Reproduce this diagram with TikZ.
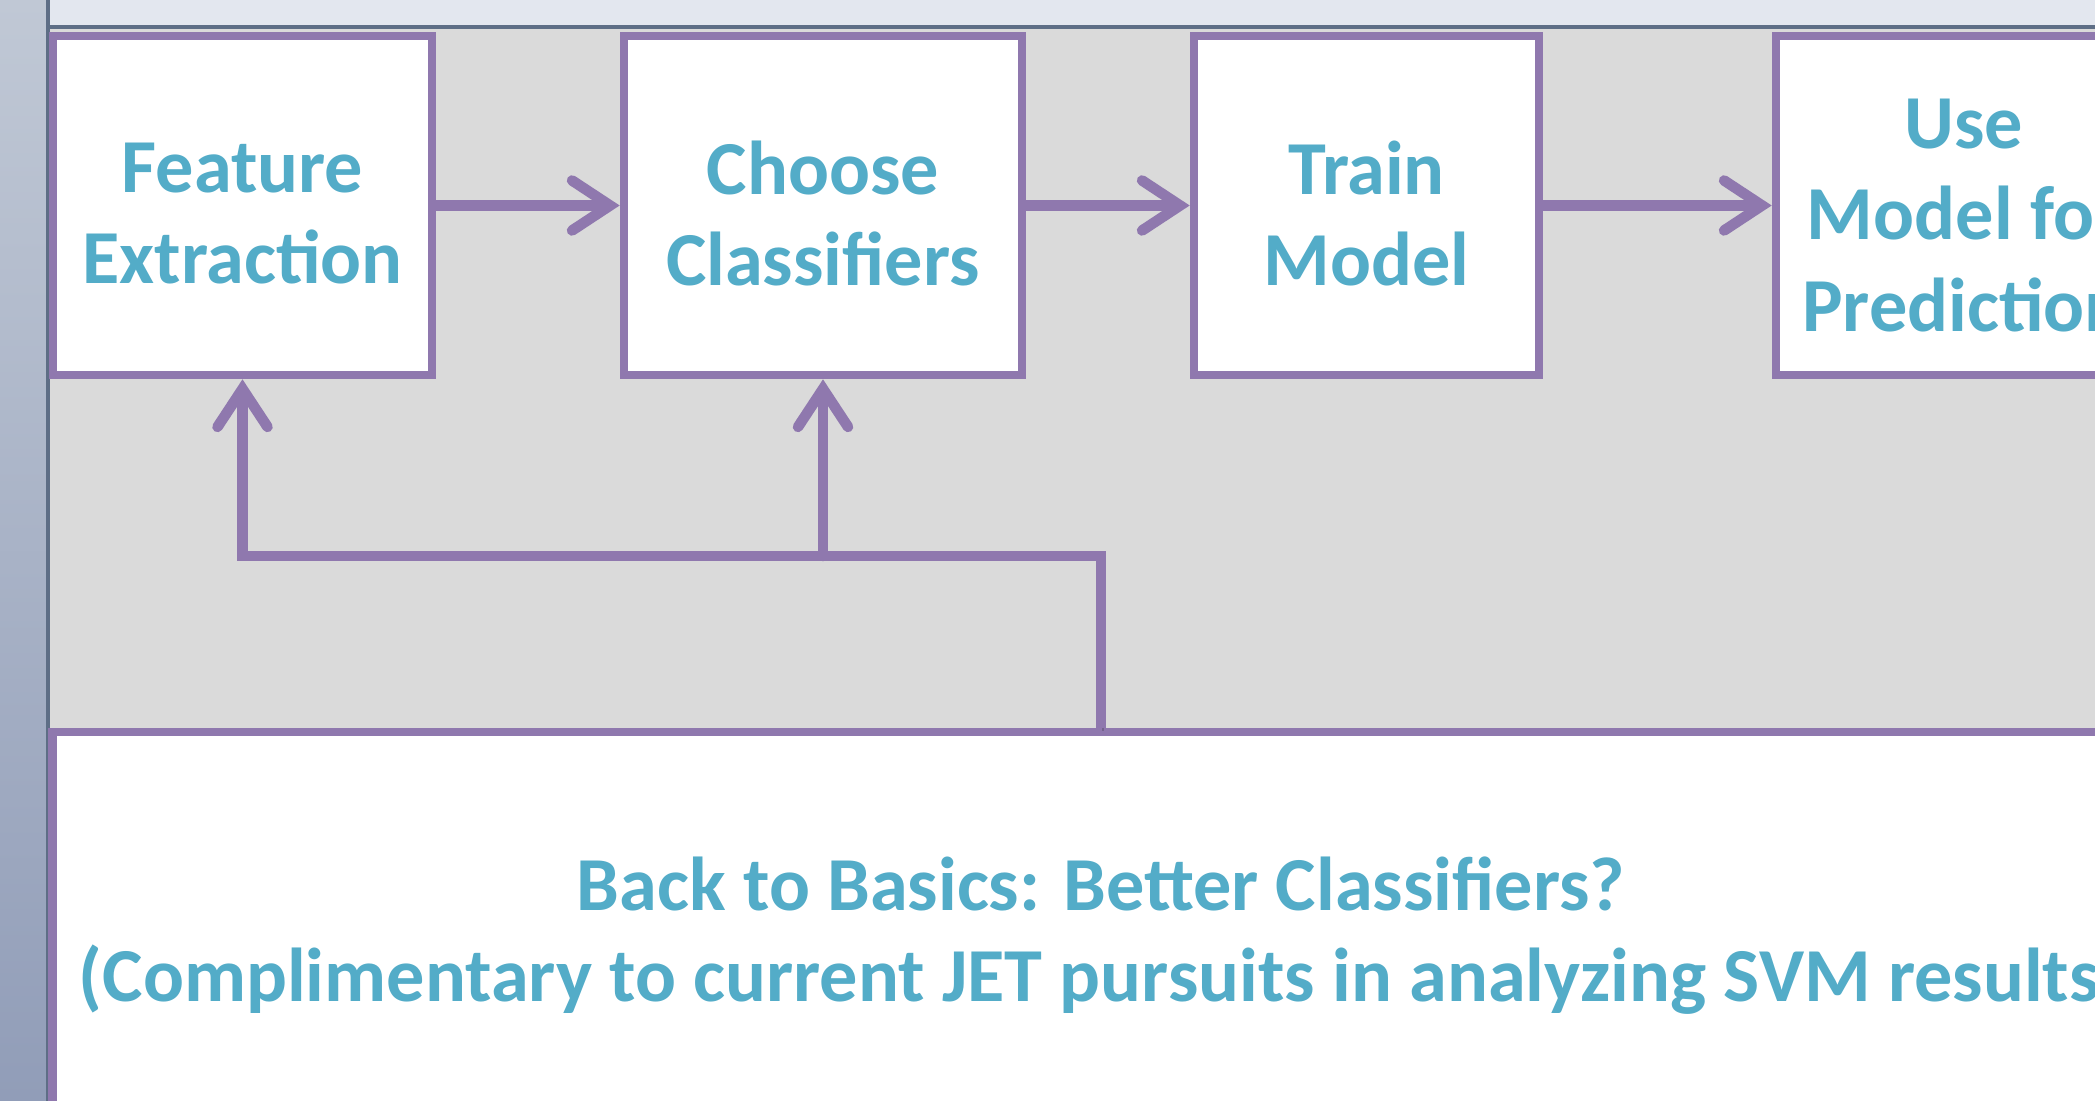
\documentclass[tikz,border=0pt]{standalone}
\usepackage{fontspec}
\setmainfont{Carlito}
\usetikzlibrary{arrows.meta}
\definecolor{boxline}{HTML}{8F78AE}
\definecolor{txt}{HTML}{53ACC8}
\definecolor{bggray}{HTML}{DADADA}
\definecolor{topstrip}{HTML}{E3E7EF}
\definecolor{sidetop}{HTML}{C0C8D5}
\definecolor{sidebot}{HTML}{919DB8}
\definecolor{edge}{HTML}{5E6E86}
\begin{document}
\begin{tikzpicture}[x=0.01cm,y=-0.01cm,
  stage/.style={draw=boxline, line width=2.4pt, fill=white, inner sep=0pt,
    minimum height=3.39cm},
  lbl/.style={align=center, text=txt, inner sep=0pt,
    font=\bfseries\fontsize{21.7}{25.9}\selectfont},
  flow/.style={draw=boxline, line width=3pt, line cap=round,
    -{Straight Barb[length=0.38cm,width=0.50cm,line cap=round]},
    preaction={draw=black, draw opacity=0.18, transform canvas={xshift=0.6pt,yshift=-0.9pt}}},
  feed/.style={draw=boxline, line width=3pt,
    preaction={draw=black, draw opacity=0.18, transform canvas={xshift=0.6pt,yshift=-0.9pt}}}]
\useasboundingbox (0,0) rectangle (2095,1101);
\clip (0,0) rectangle (2095,1101);
% background
\fill[bggray] (48,27) rectangle (2095,1101);
\fill[topstrip] (48,0) rectangle (2095,27);
\shade[top color=sidetop, bottom color=sidebot] (0,0) rectangle (47,1101);
\draw[edge, line width=1pt] (48,27) -- (2095,27);
\draw[edge, line width=1.4pt] (48,0) -- (48,1101);
% stages
\node[stage, minimum width=3.79cm, label={[lbl, yshift=-0.08cm]center:Feature\\Extraction}] (b1) at (242.5,205.5) {};
\node[stage, minimum width=3.98cm, label={[lbl, yshift=-0.08cm]center:Choose\\Classifiers}] (b2) at (823,205.5) {};
\node[stage, minimum width=3.45cm, label={[lbl, yshift=-0.08cm]center:Train\\Model}] (b3) at (1366.5,205.5) {};
\node[stage, minimum width=3.76cm, label={[lbl, yshift=-0.1cm]center:Use\\Model for\\Prediction}] (b4) at (1964,205.5) {};
\node[stage, minimum width=20.96cm, minimum height=3.96cm,
  label={[lbl, yshift=-0.06cm]center:Back to Basics: Better Classifiers?\\(Complimentary to current JET pursuits in analyzing SVM results)}] (bottom) at (1101,930) {};
% connectors
\draw[flow] (b1.east) -- (b2.west);
\draw[flow] (b2.east) -- (b3.west);
\draw[flow] (b3.east) -- (b4.west);
\coordinate (j) at (823,556);
\coordinate (k) at (1101,556);
\draw[feed] (bottom.north) -- (k) -- (j);
\draw[flow] (j) -- (b2.south);
\draw[flow] (j) -| (b1.south);
\end{tikzpicture}
\end{document}
